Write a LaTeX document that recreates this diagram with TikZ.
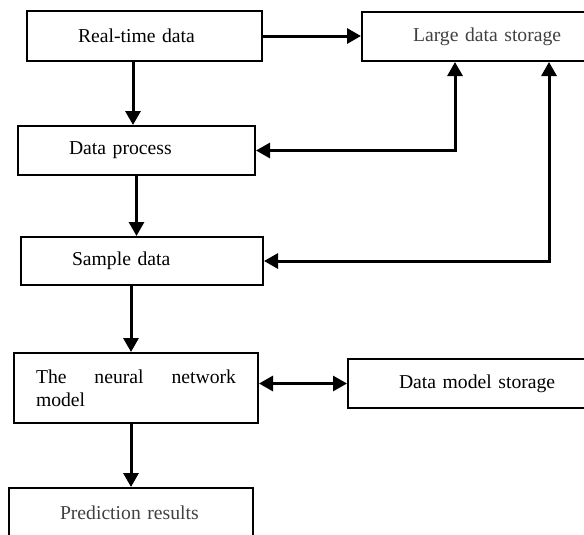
\documentclass[tikz,border=0pt]{standalone}
\usepackage{fontspec}
\setmainfont{Liberation Serif}
\usetikzlibrary{arrows.meta}
\begin{document}
\begin{tikzpicture}[x=0.6pt,y=-0.6pt,
    box/.style={draw,line width=1.2pt,anchor=north west,align=left,inner xsep=30.6pt,inner ysep=0pt,
      font=\fontsize{11.8}{14}\selectfont},
    arr/.style={line width=1.8pt,-{Triangle[length=8.4pt,width=9pt]}},
    twoway/.style={line width=1.8pt,{Triangle[length=8.4pt,width=9pt]}-{Triangle[length=8.4pt,width=9pt]}}]
    \clip (0,0) rectangle (584,534);
    \node[box,text width=79.8pt,minimum height=30pt] (real) at (26,10) {\mbox{Real-time data}};
    \node[box,text width=90pt,minimum height=29.4pt,text=black!75] (large) at (361,11) {\mbox{Large data storage}};
    \node[box,text width=81pt,minimum height=29.4pt] (proc) at (17,125) {\mbox{Data process}};
    \node[box,text width=84pt,minimum height=28.8pt] (sample) at (20,236) {\mbox{Sample data}};
    \node[box,align=justify,inner xsep=13.2pt,text width=120pt,minimum height=42pt] (nn) at (13,352) {The neural network model};
    \node[box,text width=100pt,minimum height=29.4pt] (dms) at (347,358) {\mbox{Data model storage}};
    \node[box,text width=85.2pt,minimum height=30pt,text=black!75] (pred) at (8,487) {\mbox{Prediction results}};
    \draw[arr] (real.east) -- (large.west |- real.east);
    \draw[arr] ([xshift=-6.9pt]real.south) -- ([xshift=-6.9pt]real.south |- proc.north);
    \draw[twoway] (proc.east) -| ([xshift=-19.8pt]large.south);
    \draw[twoway] (sample.east) -| ([xshift=36.6pt]large.south);
    \draw[arr] (proc.south) -- (proc.south |- sample.north);
    \draw[arr] ([xshift=-6.6pt]sample.south) -- ([xshift=-6.6pt]sample.south |- nn.north);
    \draw[twoway] (dms.west -| nn.east) -- (dms.west);
    \draw[arr] (pred.north |- nn.south) -- (pred.north);
\end{tikzpicture}
\end{document}
